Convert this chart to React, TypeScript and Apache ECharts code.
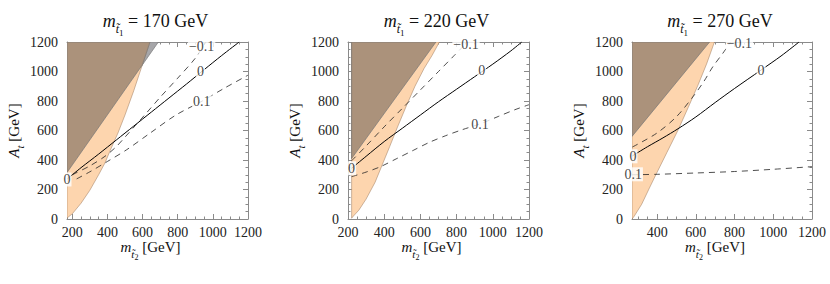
import React, { useEffect, useRef } from "react";
import * as echarts from "echarts";

// ---------- data ----------
const stopMasses = [170, 220, 270];
const xMins = [170, 200, 270];
const xMax = 1200;
const yMin = 0;
const yMax = 1200;
const yInterval = 200;
const majorXTicks = [200, 400, 600, 800, 1000, 1200];
const minorXTicks = [250, 300, 350, 450, 500, 550, 650, 700, 750, 850, 900, 950, 1050, 1100, 1150];

// right boundary of the orange (light) region, bottom to top  [m_t2, A_t]
const orangeEdge170 = [[172, 8], [200, 35], [250, 107], [300, 195], [350, 300], [386, 380], [415, 462], [460, 583], [500, 705], [550, 870], [600, 1050], [642, 1200]];
const orangeEdge220 = [[220, 5], [230, 20], [260, 60], [300, 135], [350, 250], [395, 385], [430, 490], [469, 610], [520, 760], [570, 900], [620, 1020], [665, 1110], [705, 1200]];
const orangeEdge270 = [[270, 0], [280, 16], [320, 100], [360, 210], [397, 310], [450, 450], [508, 603], [560, 755], [611, 908], [655, 1050], [696, 1200]];

// lower boundary of the grey (excluded) region  [m_t2, A_t]
const greyEdge170 = [[170, 315], [690, 1200]];
const greyEdge220 = [[220, 410], [686, 1200]];
const greyEdge270 = [[270, 560], [671, 1200]];

// contour lines  [m_t2, A_t]
const contourZero170 = [[172, 272], [250, 348], [350, 440], [450, 535], [550, 630], [650, 725], [750, 820], [850, 915], [950, 1012], [1050, 1108], [1150, 1200]];
const contourMinus170 = [[200, 300], [300, 360], [386, 425], [450, 490], [500, 555], [560, 635], [623, 720], [700, 825], [800, 955], [900, 1090], [960, 1200]];
const contourPlus170 = [[225, 272], [300, 320], [400, 390], [510, 470], [640, 580], [790, 705], [940, 800], [1070, 890], [1200, 975]];

const contourZero220 = [[220, 344], [300, 425], [400, 525], [500, 615], [600, 705], [700, 795], [800, 880], [900, 965], [1000, 1050], [1100, 1140], [1160, 1200]];
const contourMinus220 = [[220, 395], [300, 495], [400, 625], [500, 750], [600, 875], [700, 1000], [780, 1100], [860, 1200]];
const contourPlus220 = [[220, 287], [300, 318], [380, 355], [470, 410], [560, 465], [650, 520], [740, 565], [830, 605], [930, 645], [1030, 695], [1120, 740], [1200, 775]];

const contourZero270 = [[272, 428], [350, 490], [430, 550], [508, 612], [600, 692], [700, 790], [800, 885], [937, 1010], [1040, 1105], [1133, 1200]];
const contourMinus270 = [[272, 488], [397, 581], [500, 694], [585, 829], [640, 930], [688, 1033], [739, 1123], [780, 1200]];
const contourPlus270 = [[270, 300], [400, 303], [600, 312], [800, 322], [1000, 337], [1200, 355]];

// contour labels
const contourLabels170 = [
  { text: "0", x: 170, y: 268 },
  { text: "\u22120.1", x: 936, y: 1168 },
  { text: "0", x: 930, y: 1000 },
  { text: "0.1", x: 937, y: 795 },
];
const contourLabels220 = [
  { text: "0", x: 220, y: 344 },
  { text: "\u22120.1", x: 852, y: 1180 },
  { text: "0", x: 939, y: 1010 },
  { text: "0.1", x: 929, y: 640 },
];
const contourLabels270 = [
  { text: "0", x: 275, y: 425 },
  { text: "0.1", x: 276, y: 303 },
  { text: "\u22120.1", x: 825, y: 1188 },
  { text: "0", x: 937, y: 1010 },
];

const orangeEdges = [orangeEdge170, orangeEdge220, orangeEdge270];
const greyEdges = [greyEdge170, greyEdge220, greyEdge270];
const zeroContours = [contourZero170, contourZero220, contourZero270];
const minusContours = [contourMinus170, contourMinus220, contourMinus270];
const plusContours = [contourPlus170, contourPlus220, contourPlus270];
const contourLabels = [contourLabels170, contourLabels220, contourLabels270];

// ---------- style / layout ----------
const SERIF = "'Liberation Serif', 'DejaVu Serif', serif";
const FRAME = "#8a8a8a";
const ORANGE = "#fdd5ae";
const BROWN = "#ab927b";
const GREY = "#a6a6a9";
const gridLefts = [67, 348, 632];
const gridWidths = [181, 181, 180];
const gridTop = 42;
const gridHeight = 177;

type Pt = number[];

function clipPolygon(subject: Pt[], clip: Pt[]): Pt[] {
  let area = 0;
  for (let i = 0; i < clip.length; i++) {
    const p = clip[i];
    const q = clip[(i + 1) % clip.length];
    area += p[0] * q[1] - q[0] * p[1];
  }
  const sign = area > 0 ? 1 : -1;
  let output = subject.slice();
  for (let i = 0; i < clip.length; i++) {
    const a = clip[i];
    const b = clip[(i + 1) % clip.length];
    const input = output;
    output = [];
    if (!input.length) break;
    const side = (p: Pt) => sign * ((b[0] - a[0]) * (p[1] - a[1]) - (b[1] - a[1]) * (p[0] - a[0]));
    const inter = (p: Pt, q: Pt): Pt => {
      const sp = side(p);
      const sq = side(q);
      const t = sp / (sp - sq);
      return [p[0] + t * (q[0] - p[0]), p[1] + t * (q[1] - p[1])];
    };
    for (let j = 0; j < input.length; j++) {
      const cur = input[j];
      const prev = input[(j + input.length - 1) % input.length];
      const cIn = side(cur) >= -1e-9;
      const pIn = side(prev) >= -1e-9;
      if (cIn) {
        if (!pIn) output.push(inter(prev, cur));
        output.push(cur);
      } else if (pIn) {
        output.push(inter(prev, cur));
      }
    }
  }
  return output;
}

function polygonSeries(panel: number, pts: Pt[], fill: string, stroke: string, z: number) {
  return {
    type: "custom",
    coordinateSystem: "cartesian2d",
    xAxisIndex: panel * 4,
    yAxisIndex: panel * 2,
    silent: true,
    clip: true,
    z,
    data: [pts[0]],
    renderItem: (_params: any, api: any) => ({
      type: "polygon",
      shape: { points: pts.map((p) => api.coord(p)) },
      style: { fill, stroke, lineWidth: 0.7 },
    }),
  };
}

function lineSeries(panel: number, pts: Pt[], dashed: boolean) {
  return {
    type: "line",
    xAxisIndex: panel * 4,
    yAxisIndex: panel * 2,
    data: pts,
    showSymbol: false,
    symbol: "none",
    smooth: 0.3,
    silent: true,
    z: 5,
    lineStyle: dashed
      ? { color: "#222", width: 0.8, type: [6, 5] }
      : { color: "#000", width: 1, type: "solid" },
  };
}

function labelSeries(panel: number, labels: { text: string; x: number; y: number }[]) {
  return {
    type: "scatter",
    xAxisIndex: panel * 4,
    yAxisIndex: panel * 2,
    symbolSize: 1,
    itemStyle: { color: "rgba(0,0,0,0)" },
    silent: true,
    clip: false,
    z: 10,
    data: labels.map((l) => ({ name: l.text, value: [l.x, l.y] })),
    label: {
      show: true,
      position: "inside",
      formatter: "{b}",
      fontFamily: SERIF,
      fontSize: 14,
      color: "#111",
      backgroundColor: "#fff",
      padding: [0, 1],
    },
  };
}

const tok = (fontSize: number, lineHeight: number, padBottom: number, italic: boolean) => ({
  fontFamily: SERIF,
  fontStyle: italic ? "italic" : "normal",
  fontWeight: "normal",
  fontSize,
  lineHeight,
  padding: [0, 0, padBottom, 0],
  verticalAlign: "bottom",
  color: "#111",
});

const titleRich = { m: tok(18, 20, 7, true), s: tok(12, 14, 2, true), n: tok(9, 10, 0, false), r: tok(18, 20, 7, false) };
const xNameRich = { m: tok(15, 16, 7, true), s: tok(11, 12, 2, true), n: tok(8, 9, 0, false), r: tok(15, 16, 7, false) };
const yNameRich = { a: tok(15, 16, 4, true), t: tok(11, 12, 0, true), r: tok(15, 16, 4, false) };

const plainNumber = (v: number) => String(v);

function buildOption() {
  const grids: any[] = [];
  const xAxes: any[] = [];
  const yAxes: any[] = [];
  const series: any[] = [];
  const titles: any[] = [];

  stopMasses.forEach((m1, i) => {
    const min = xMins[i];
    grids.push({ left: gridLefts[i], top: gridTop, width: gridWidths[i], height: gridHeight, containLabel: false });
    const majors = majorXTicks.filter((v) => v >= min);
    const minors = minorXTicks.filter((v) => v > min);
    const baseX = {
      type: "value",
      gridIndex: i,
      min,
      max: xMax,
      splitLine: { show: false },
      axisLine: { show: true, onZero: false, lineStyle: { color: FRAME, width: 1 } },
    };
    xAxes.push({
      ...baseX,
      position: "bottom",
      axisTick: { show: true, inside: true, length: 5, customValues: majors, lineStyle: { color: FRAME } },
      axisLabel: { show: true, customValues: majors, formatter: plainNumber, fontFamily: SERIF, fontSize: 14, color: "#222", margin: 6 },
      name: "{m|m}{s|t\u0303}{n|2}{r| [GeV]}",
      nameLocation: "middle",
      nameGap: 26,
      nameMoveOverlap: false,
      nameTextStyle: { rich: xNameRich, padding: [0, 14, 0, 0] },
    });
    xAxes.push({
      ...baseX,
      position: "bottom",
      axisLine: { show: false, onZero: false },
      axisTick: { show: true, inside: true, length: 2.5, customValues: minors, lineStyle: { color: FRAME } },
      axisLabel: { show: false },
    });
    xAxes.push({
      ...baseX,
      position: "top",
      axisTick: { show: true, inside: true, length: 5, customValues: majors, lineStyle: { color: FRAME } },
      axisLabel: { show: false },
    });
    xAxes.push({
      ...baseX,
      position: "top",
      axisLine: { show: false, onZero: false },
      axisTick: { show: true, inside: true, length: 2.5, customValues: minors, lineStyle: { color: FRAME } },
      axisLabel: { show: false },
    });
    const baseY = {
      type: "value",
      gridIndex: i,
      min: yMin,
      max: yMax,
      interval: yInterval,
      splitLine: { show: false },
      minorSplitLine: { show: false },
      axisLine: { show: true, onZero: false, lineStyle: { color: FRAME, width: 1 } },
      axisTick: { show: true, inside: true, length: 5, lineStyle: { color: FRAME } },
      minorTick: { show: true, splitNumber: 4, length: 2.5, lineStyle: { color: FRAME } },
    };
    yAxes.push({
      ...baseY,
      position: "left",
      axisLabel: { show: true, formatter: plainNumber, fontFamily: SERIF, fontSize: 14, color: "#222", margin: 9 },
      name: "{a|A}{t|t}{r| [GeV]}",
      nameLocation: "middle",
      nameRotate: 90,
      nameGap: 42,
      nameMoveOverlap: false,
      nameTextStyle: { rich: yNameRich },
    });
    yAxes.push({ ...baseY, position: "right", axisLabel: { show: false } });

    titles.push({
      text: `{m|m}{s|t\u0303}{n|1}{r| = ${m1} GeV}`,
      left: gridLefts[i] + gridWidths[i] / 2 - 2,
      top: 17,
      padding: 0,
      textAlign: "center",
      textStyle: { fontWeight: "normal", fontFamily: SERIF, rich: titleRich },
    });

    // regions
    const edge = orangeEdges[i];
    const orangePoly: Pt[] = [[m1, edge[0][1]], ...edge, [m1, yMax]];
    const g = greyEdges[i];
    const greyPoly: Pt[] = [[m1, g[0][1]], g[1], [m1, yMax]];
    const overlap = clipPolygon(orangePoly, greyPoly);
    series.push(polygonSeries(i, greyPoly, GREY, "#7a7a7a", 1));
    series.push(polygonSeries(i, orangePoly, ORANGE, "rgba(160,125,95,0.75)", 2));
    if (overlap.length > 2) series.push(polygonSeries(i, overlap, BROWN, "#777", 3));

    series.push(lineSeries(i, zeroContours[i], false));
    series.push(lineSeries(i, minusContours[i], true));
    series.push(lineSeries(i, plusContours[i], true));
    series.push(labelSeries(i, contourLabels[i]));
  });

  return {
    animation: false,
    backgroundColor: "#fff",
    textStyle: { fontFamily: SERIF },
    title: titles,
    grid: grids,
    xAxis: xAxes,
    yAxis: yAxes,
    series,
  };
}

export default function App() {
  const ref = useRef<HTMLDivElement>(null);
  useEffect(() => {
    if (!ref.current) return;
    const chart = echarts.init(ref.current, undefined, { renderer: "svg" });
    chart.setOption(buildOption() as any);
    return () => chart.dispose();
  }, []);
  return (
    <div
      ref={ref}
      style={{ position: "fixed", left: 0, top: 0, width: 830, height: 284, background: "#fff" }}
    />
  );
}
